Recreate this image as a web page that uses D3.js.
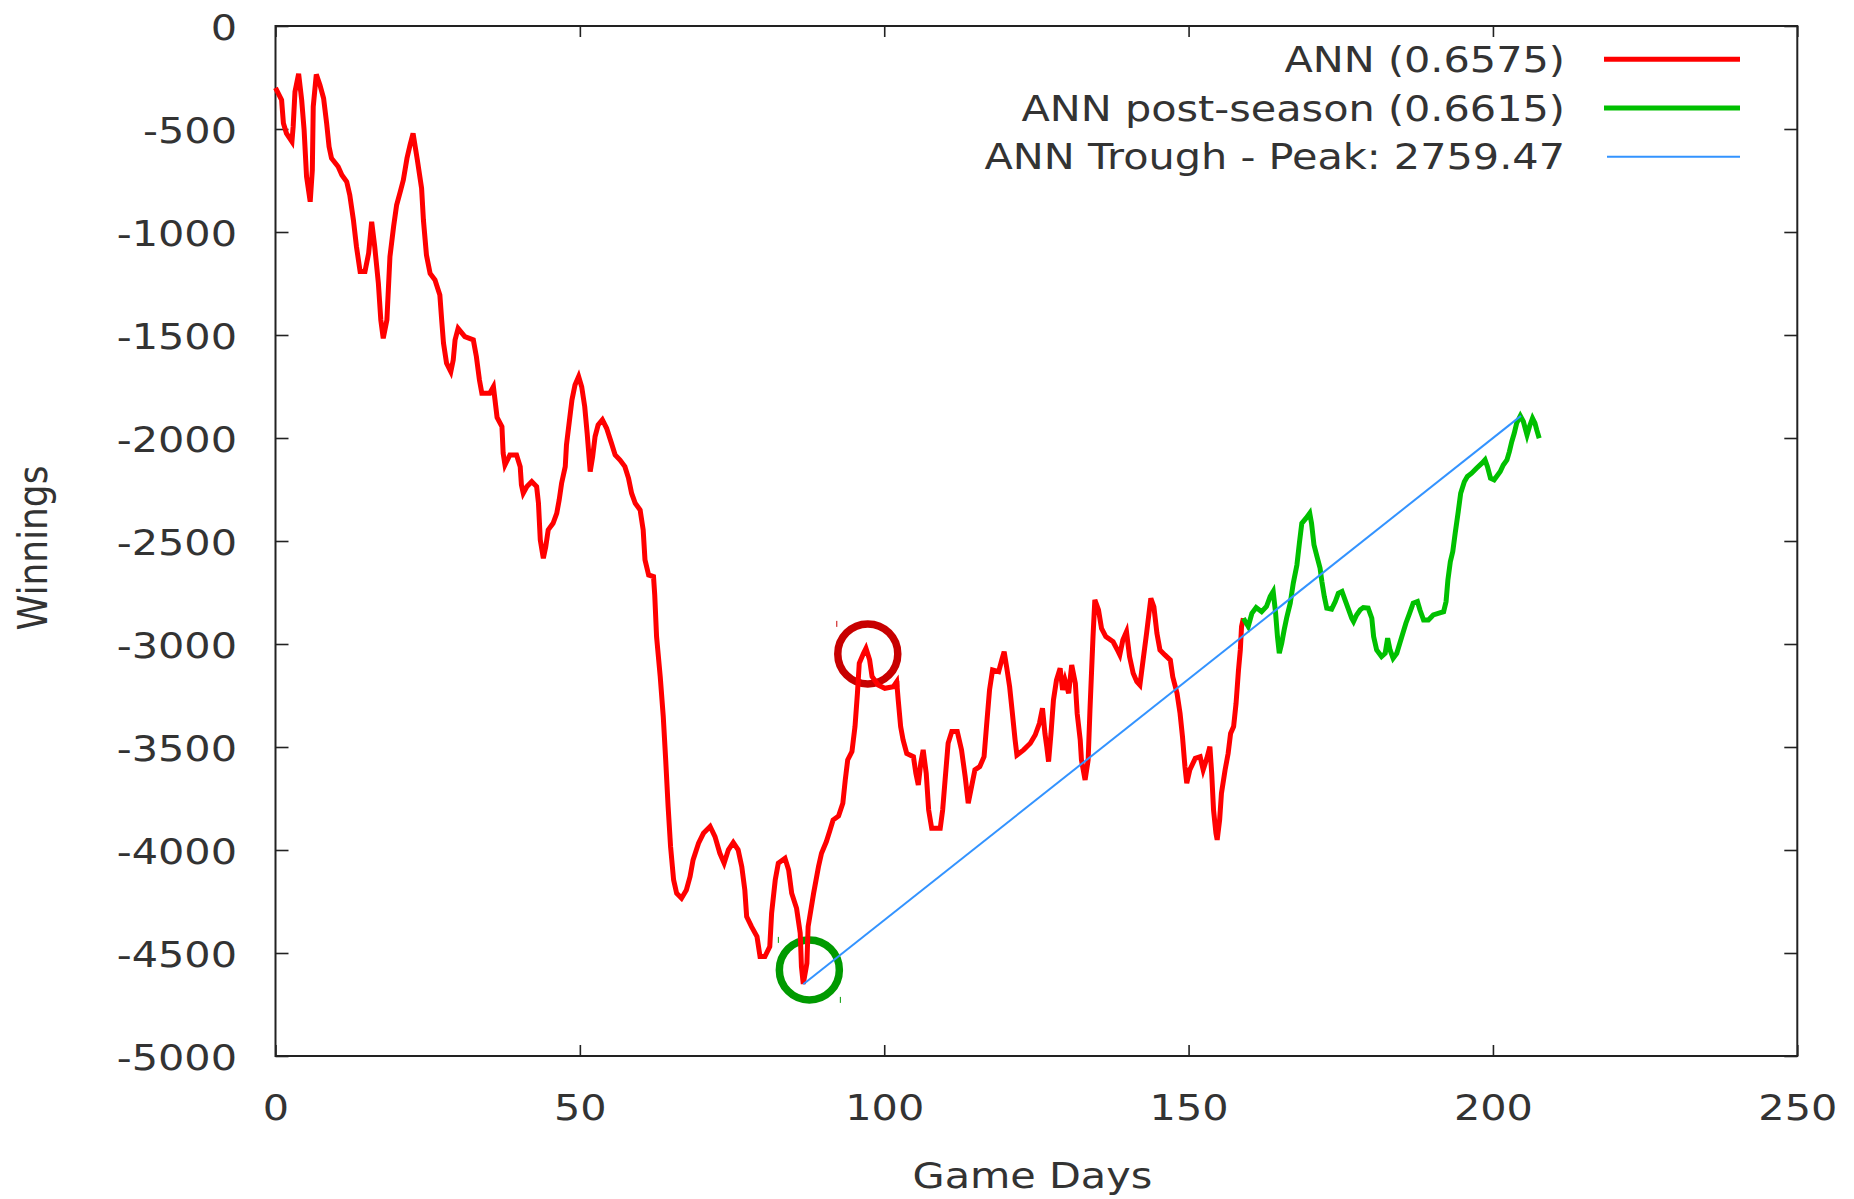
<!DOCTYPE html>
<html lang="en">

<head>
    <title>ANN Winnings</title>
    <meta charset="utf-8">
    <script src="https://d3js.org/d3.v7.min.js"></script>
    <style>
        body {
            margin: 0;
            background: #fff;
        }

        text {
            font-family: "DejaVu Sans", sans-serif;
            font-size: 36px;
            fill: #333;
        }

        .line {
            fill: none;
            stroke-linejoin: miter;
        }
    </style>
</head>

<body>
    <div id="chart"></div>
    <script>
        // regular season (red)
        const annDays = [0, 1, 1.3, 1.8, 2.7, 2.9, 3.2, 3.8, 4.3, 4.7, 5.1, 5.7, 6.05, 6.2, 6.7, 7.3, 7.9, 8.4, 8.8, 9.2,
            10.3, 10.9, 11.7, 12.2, 12.8, 13.3, 13.9, 14.7, 15.3, 15.8, 16.3, 16.9, 17.3, 17.7, 18.3, 18.8, 19.4, 19.9,
            20.5, 21.0, 21.6, 22.1, 22.6, 23.3, 24.0, 24.3, 24.8, 25.4, 26.2, 27.0, 27.3, 27.6, 28.1, 28.8, 29.2, 29.5,
            30.0, 31.1, 32.5, 33.0, 33.5, 33.9, 35.2, 35.8, 36.4, 37.2, 37.4, 37.7, 38.5, 39.6, 40.2, 40.4, 40.7, 41.3,
            42.1, 42.9, 43.2, 43.5, 44.0, 44.4, 44.8, 45.6, 46.2, 46.6, 47.0, 47.6, 47.8, 48.3, 48.7, 49.2, 49.8, 50.3,
            50.8, 51.2, 51.7, 52.1, 52.5, 53.0, 53.7, 54.4, 55.2, 55.8, 56.6, 57.4, 58.0, 58.5, 59.1, 59.9, 60.4, 60.7,
            61.3, 62.1, 62.3, 62.6, 63.2, 63.7, 64.1, 64.5, 64.9, 65.4, 65.9, 66.7, 67.5, 68.1, 68.6, 69.5, 70.3, 71.4,
            72.2, 73.0, 73.7, 74.4, 75.2, 76.0, 76.6, 77.1, 77.4, 78.2, 79.1, 79.6, 80.4, 81.2, 81.5, 82.1, 82.6, 83.7,
            84.3, 84.8, 85.6, 86.2, 86.4, 86.7, 87.3, 87.5, 88.4, 89.2, 89.7, 90.5, 91.1, 91.6, 92.5, 93.2, 93.6, 94.0,
            94.7, 95.2, 95.6, 95.9, 96.6, 97.0, 97.6, 98.0, 99.0, 100.1, 101.5, 102.05, 102.3, 102.7, 103.1, 103.7,
            104.8, 105.2, 105.6, 106.0, 106.4, 106.9, 107.3, 107.8, 109.2, 109.6, 110.0, 110.5, 111.1, 112.0, 112.7,
            113.3, 113.8, 114.4, 114.9, 115.7, 116.4, 116.8, 117.3, 117.8, 118.8, 119.3, 119.7, 120.1, 120.6, 121.0,
            121.5, 121.8, 122.9, 124.0, 124.8, 125.5, 126.0, 126.4, 126.7, 127.0, 127.4, 127.8, 128.3, 128.9, 129.3,
            129.7, 130.3, 130.8, 131.4, 131.7, 132.2, 132.4, 133.0, 133.5, 133.8, 134.3, 134.6, 135.2, 135.7, 136.4,
            137.6, 138.3, 138.7, 139.2, 139.8, 140.3, 140.9, 141.5, 142.0, 142.6, 143.1, 143.8, 144.3, 144.8, 145.3,
            146.1, 147.0, 147.4, 148.1, 148.6, 149.0, 149.4, 149.7, 150.2, 151.1, 151.9, 152.4, 153.0, 153.5, 153.8,
            154.1, 154.5, 154.7, 155.1, 155.4, 156.0, 156.5, 156.9, 157.4, 157.8, 158.2, 158.5, 158.7, 159.0];
        const annWinnings = [-300, -359, -472, -521, -561, -489, -319, -232, -359, -505, -731, -853, -699, -392, -235, -286,
            -351, -472, -586, -642, -683, -723, -756, -820, -942, -1071, -1192, -1192, -1103, -950, -1071, -1249, -1427,
            -1516, -1427, -1120, -974, -869, -804, -748, -642, -578, -521, -650, -788, -942, -1112, -1201, -1233, -1306,
            -1427, -1540, -1637, -1678, -1621, -1524, -1468, -1508, -1524, -1605, -1718, -1783, -1783, -1751, -1900,
            -1945, -2074, -2131, -2082, -2082, -2139, -2228, -2268, -2236, -2212, -2236, -2317, -2495, -2584, -2527,
            -2446, -2414, -2366, -2301, -2220, -2139, -2034, -1912, -1815, -1743, -1702, -1751, -1848, -1977, -2163,
            -2090, -1993, -1937, -1912, -1953, -2026, -2082, -2107, -2139, -2196, -2268, -2317, -2349, -2446, -2592,
            -2665, -2673, -2762, -2964, -3158, -3352, -3563, -3789, -3983, -4145, -4210, -4234, -4194, -4129, -4048,
            -3967, -3919, -3886, -3935, -4016, -4064, -3999, -3964, -3999, -4081, -4194, -4323, -4372, -4420, -4517,
            -4517, -4469, -4307, -4145, -4064, -4040, -4097, -4210, -4283, -4404, -4566, -4650, -4550, -4372, -4210,
            -4081, -4016, -3959, -3903, -3854, -3835, -3773, -3660, -3563, -3522, -3401, -3239, -3094, -3045, -3021,
            -3077, -3158, -3199, -3215, -3207, -3183, -3272, -3401, -3466, -3531, -3547, -3628, -3684, -3579, -3514,
            -3628, -3806, -3895, -3895, -3806, -3660, -3482, -3425, -3425, -3514, -3644, -3773, -3684, -3611, -3595,
            -3547, -3401, -3223, -3126, -3134, -3078, -3037, -3110, -3207, -3320, -3466, -3539, -3514, -3482, -3442,
            -3385, -3312, -3434, -3498, -3571, -3434, -3272, -3175, -3118, -3223, -3175, -3239, -3102, -3191, -3337,
            -3466, -3563, -3660, -3563, -3320, -2964, -2786, -2835, -2924, -2964, -2989, -3029, -3053, -2981, -2940,
            -3061, -3142, -3183, -3199, -3061, -2948, -2778, -2819, -2948, -3029, -3053, -3078, -3159, -3239, -3337,
            -3450, -3595, -3676, -3611, -3555, -3547, -3611, -3555, -3498, -3628, -3806, -3919, -3951, -3854, -3725,
            -3611, -3531, -3434, -3401, -3288, -3126, -3029, -2916, -2875];

        // post-season (green)
        const postDays = [159.0, 159.8, 160.4, 161.1, 162.0, 162.8, 163.4, 163.9, 164.3, 164.6, 164.9, 165.3, 165.7, 166.1,
            166.7, 167.2, 167.8, 168.2, 168.6, 169.3, 169.9, 170.2, 170.6, 171.1, 171.6, 171.9, 172.3, 172.7, 173.5,
            174.1, 174.6, 175.2, 175.7, 176.3, 176.8, 177.1, 177.6, 178.2, 178.7, 179.5, 180.1, 180.4, 180.9, 181.7,
            182.3, 182.7, 183.1, 183.6, 184.2, 184.7, 185.2, 185.7, 186.3, 186.9, 187.6, 188.0, 188.6, 189.4, 190.2,
            191.0, 191.9, 192.3, 192.6, 193.0, 193.4, 193.8, 194.3, 194.7, 195.3, 195.8, 196.5, 197.3, 198.2, 198.7,
            199.1, 199.6, 200.2, 200.6, 201.2, 201.7, 202.3, 202.7, 203.1, 203.5, 203.9, 204.5, 205.0, 205.6, 206.0,
            206.5, 206.9, 207.2, 207.6];
        const postWinnings = [-2875, -2915, -2851, -2823, -2843, -2818, -2770, -2745, -2851, -2964, -3045, -2996, -2932,
            -2875, -2802, -2705, -2616, -2511, -2414, -2389, -2365, -2414, -2519, -2576, -2632, -2697, -2770, -2826, -2831,
            -2794, -2754, -2745, -2786, -2834, -2875, -2891, -2859, -2834, -2823, -2826, -2875, -2964, -3029, -3061, -3045,
            -2972, -3029, -3069, -3045, -2996, -2948, -2899, -2851, -2802, -2794, -2834, -2883, -2883, -2859, -2851, -2843,
            -2794, -2689, -2600, -2551, -2462, -2357, -2268, -2212, -2187, -2171, -2147, -2122, -2106, -2139, -2195, -2203,
            -2187, -2163, -2131, -2106, -2066, -2017, -1977, -1928, -1893, -1920, -1985, -1944, -1904, -1928, -1961, -2001];

        // trough -> peak (blue)
        const troughPeakDays = [86.7, 204.6];
        const troughPeakWinnings = [-4652, -1892.5];

        // circled points: peak after trough (dark red), trough (green)
        const markDays = [97.3, 87.7];
        const markWinnings = [-3048, -4582];
        const markColors = ["#c80000", "#009a00"];

        const xTicks = [0, 50, 100, 150, 200, 250];
        const yTicks = [0, -500, -1000, -1500, -2000, -2500, -3000, -3500, -4000, -4500, -5000];
        const legendLabels = ["ANN (0.6575)", "ANN post-season (0.6615)", "ANN Trough - Peak: 2759.47"];
        const legendColors = ["#ff0000", "#00c000", "#3393ff"];
        const legendWidths = [5, 5, 2];

        const w = 1854;
        const h = 1199;
        const plotLeft = 275.5;
        const plotRight = 1797.3;
        const plotTop = 26;
        const plotBottom = 1056;
        const stretch = 1.15; // the original picture is wider than tall

        const svg = d3.select("#chart")
            .append("svg")
            .attr("width", w)
            .attr("height", h);

        const xScale = d3.scaleLinear()
            .domain([0, 250])
            .range([plotLeft, plotRight]);

        const yScale = d3.scaleLinear()
            .domain([-5000, 0])
            .range([plotBottom, plotTop]);

        const fmt = d => String(d);

        // axes, ticks pointing inward on all four sides
        svg.append("g")
            .attr("transform", `translate(0, ${plotBottom})`)
            .call(d3.axisBottom(xScale).tickValues(xTicks).tickSize(-11).tickFormat(fmt))
            .call(g => g.select(".domain").remove())
            .call(g => g.selectAll("line").attr("stroke", "#222").attr("stroke-width", 1.6))
            .selectAll("text")
            .attr("y", 0)
            .attr("dy", null)
            .attr("text-anchor", "middle")
            .attr("transform", `translate(0, 63.5) scale(${stretch}, 1)`);

        svg.append("g")
            .attr("transform", `translate(0, ${plotTop})`)
            .call(d3.axisTop(xScale).tickValues(xTicks).tickSize(-11).tickFormat(""))
            .call(g => g.select(".domain").remove())
            .call(g => g.selectAll("line").attr("stroke", "#222").attr("stroke-width", 1.6));

        svg.append("g")
            .attr("transform", `translate(${plotLeft}, 0)`)
            .call(d3.axisLeft(yScale).tickValues(yTicks).tickSize(-13).tickFormat(fmt))
            .call(g => g.select(".domain").remove())
            .call(g => g.selectAll("line").attr("stroke", "#222").attr("stroke-width", 1.6))
            .selectAll("text")
            .attr("x", 0)
            .attr("dy", null)
            .attr("text-anchor", "end")
            .attr("transform", `translate(-38.5, 13) scale(${stretch}, 1)`);

        svg.append("g")
            .attr("transform", `translate(${plotRight}, 0)`)
            .call(d3.axisRight(yScale).tickValues(yTicks).tickSize(-13).tickFormat(""))
            .call(g => g.select(".domain").remove())
            .call(g => g.selectAll("line").attr("stroke", "#222").attr("stroke-width", 1.6));

        svg.selectAll(".tick text")
            .style("font-family", "'DejaVu Sans', sans-serif")
            .style("font-size", "36px")
            .style("fill", "#333");

        // frame
        svg.append("rect")
            .attr("x", plotLeft)
            .attr("y", plotTop)
            .attr("width", plotRight - plotLeft)
            .attr("height", plotBottom - plotTop)
            .attr("fill", "none")
            .attr("stroke", "#222")
            .attr("stroke-width", 2);

        // axis titles
        svg.append("text")
            .attr("text-anchor", "middle")
            .attr("transform", `translate(${(plotLeft + plotRight) / 2 - 4}, 1188) scale(${stretch}, 1)`)
            .text("Game Days");

        svg.append("text")
            .attr("text-anchor", "middle")
            .attr("transform", `translate(47, 548) scale(${stretch}, 1) rotate(-90)`)
            .text("Winnings");

        // circles round the trough and the peak after it
        const r = 30;
        markDays.forEach((d, i) => {
            const cx = xScale(d);
            const cy = yScale(markWinnings[i]);
            svg.append("circle")
                .attr("cx", cx)
                .attr("cy", cy)
                .attr("r", r)
                .attr("fill", "none")
                .attr("stroke", markColors[i])
                .attr("stroke-width", 7.5);
            // little corner marks left over from the drawing tool
            [[-31, -33], [31, 27]].forEach(([dx, dy]) => {
                svg.append("line")
                    .attr("x1", cx + dx).attr("x2", cx + dx)
                    .attr("y1", cy + dy).attr("y2", cy + dy + 6)
                    .attr("stroke", markColors[i])
                    .attr("stroke-width", 1);
            });
        });

        const line = d3.line()
            .x(d => xScale(d[0]))
            .y(d => yScale(d[1]));

        svg.append("path")
            .datum(d3.zip(annDays, annWinnings))
            .attr("class", "line")
            .attr("stroke", legendColors[0])
            .attr("stroke-width", legendWidths[0])
            .attr("d", line);

        svg.append("path")
            .datum(d3.zip(postDays, postWinnings))
            .attr("class", "line")
            .attr("stroke", legendColors[1])
            .attr("stroke-width", legendWidths[1])
            .attr("d", line);

        svg.append("path")
            .datum(d3.zip(troughPeakDays, troughPeakWinnings))
            .attr("class", "line")
            .attr("stroke", legendColors[2])
            .attr("stroke-width", legendWidths[2])
            .attr("d", line);

        // legend
        const legend = svg.append("g");
        legendLabels.forEach((label, i) => {
            const baseline = 71.7 + i * 48.8;
            legend.append("text")
                .attr("text-anchor", "end")
                .attr("transform", `translate(1565, ${baseline}) scale(${stretch}, 1)`)
                .text(label);
            legend.append("line")
                .attr("x1", 1604 + (i == 2 ? 3 : 0))
                .attr("x2", 1740)
                .attr("y1", baseline - 12.5)
                .attr("y2", baseline - 12.5)
                .attr("stroke", legendColors[i])
                .attr("stroke-width", legendWidths[i]);
        });
    </script>
</body>

</html>
